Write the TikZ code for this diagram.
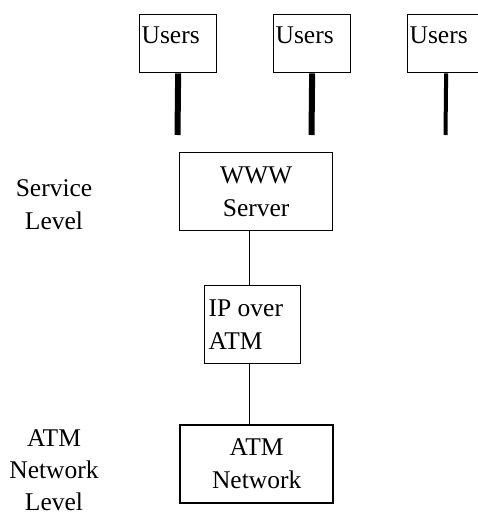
\documentclass[tikz,border=0pt]{standalone}
\usepackage{fontspec}
\setmainfont{Liberation Serif}
\begin{document}
\begin{tikzpicture}[x=1pt,y=-1pt,
  txt/.style={font=\fontsize{25.5}{33}\selectfont},
  userbox/.style={txt,draw,line width=1.3pt,anchor=north west,inner sep=0pt,
    inner xsep=2pt,text width=73pt,align=left,text height=29pt,text depth=29pt},
  pole/.style={line width=#1,line cap=butt},
  box/.style={txt,draw,line width=1.3pt,anchor=north west,inner sep=0pt},
  link/.style={line width=0.9pt},
  lvl/.style={txt,align=center,anchor=north}]
\clip (0,0) rectangle (478,517);
\useasboundingbox (0,0) rectangle (478,517);

% user terminals on top
\node[userbox] (u1) at (139,14) {Users};
\node[userbox] (u2) at (273,14) {Users};
\node[userbox] (u3) at (407,14) {Users};
\coordinate (p1) at (177.5,135);
\coordinate (p2) at (311.5,135);
\coordinate (p3) at (445.5,135);
\draw[pole=6pt] (u1.south) -- (p1);
\draw[pole=6pt] (u2.south) -- (p2);
\draw[pole=4pt] (u3.south) -- (p3);

% protocol stack
\node[box,minimum width=153pt,minimum height=78pt] (www) at (179,152)
  {\raisebox{12pt}{\parbox{150pt}{\centering WWW\\Server}}};
\node[box,minimum width=96pt,minimum height=78pt] (ip) at (204,285)
  {\raisebox{12pt}{\parbox{88pt}{IP over\\ATM}}};
\node[box,line width=2.3pt,minimum width=153pt,minimum height=78pt] (atm) at (179,424)
  {\raisebox{11pt}{\parbox{150pt}{\centering ATM\\Network}}};

\coordinate (spine) at (249,0);
\draw[link] (spine |- www.south) -- (spine |- ip.north);
\draw[link] (spine |- ip.south) -- (spine |- atm.north);

% level labels
\node[lvl] (svc) at (54,176) {Service\\Level};
\node[lvl,font=\fontsize{25.5}{32}\selectfont] (net) at (54,426) {ATM\\Network\\Level};
\end{tikzpicture}
\end{document}
